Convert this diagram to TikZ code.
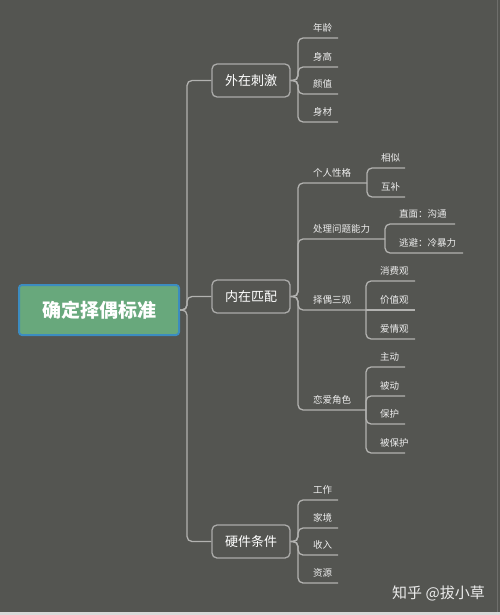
\documentclass[tikz,border=0pt]{standalone}
\usepackage{fontspec}
\setmainfont{Noto Sans CJK SC}
\newfontfamily\cjk{Noto Sans CJK SC}
\definecolor{bgc}{HTML}{545551}
\definecolor{linec}{HTML}{B2B2B0}
\definecolor{boxc}{HTML}{ABABA9}
\definecolor{txtc}{HTML}{EEEEEE}
\definecolor{rootfill}{HTML}{68A87C}
\definecolor{rootdraw}{HTML}{3C8CC0}
\begin{document}
\begin{tikzpicture}[x=1pt,y=-1pt,
  conn/.style={draw=linec, line width=1.3pt, rounded corners=5pt},
  rootbox/.style={draw=rootdraw, fill=rootfill, line width=2pt, rounded corners=3pt,
    minimum width=160pt, minimum height=50pt, text=white, font=\cjk\bfseries\fontsize{19}{19}\selectfont},
  lone/.style={draw=boxc, line width=1.3pt, rounded corners=5pt, minimum width=78pt,
    minimum height=33pt, text=white, font=\cjk\fontsize{13}{13}\selectfont},
  lbl/.style={anchor=west, inner sep=0pt, text=txtc, font=\cjk\fontsize{9.5}{10}\selectfont}]
\fill[bgc] (0,0) rectangle (500,615);
\useasboundingbox (0,0) rectangle (500,615);
\fill[black!15] (0,612) rectangle (500,615);
\draw[bgc!85!white, line width=1pt] (497.5,0) -- (497.5,612);

% root and level 1
\node[rootbox] (root) at (99,310) {确定择偶标准};
\node[lone] (ext) at (251,80.5) {外在刺激};
\node[lone] (nei) at (251,296.5) {内在匹配};
\node[lone] (hard) at (251,541.5) {硬件条件};
\coordinate (tr) at (187,310);
\draw[conn] (root.east) -- (tr) |- (ext.west);
\draw[conn] (root.east) -- (tr) |- (nei.west);
\draw[conn] (root.east) -- (tr) |- (hard.west);
\coordinate (jx) at (298,0);

% 外在刺激
\coordinate (e1) at (338,38);
\coordinate (e2) at (338,67);
\coordinate (e3) at (338,94);
\coordinate (e4) at (338,122);
\node[lbl] (e1t) at (313,28) {年龄};
\node[lbl] (e2t) at (313,57) {身高};
\node[lbl] (e3t) at (313,84) {颜值};
\node[lbl] (e4t) at (313,112) {身材};
\foreach \c in {e1,e2,e3,e4}
  \draw[conn] (ext.east) -- (ext.east -| jx) |- (\c);

% 内在匹配
\coordinate (n1) at (367,183);
\coordinate (n2) at (385,239);
\coordinate (n3) at (366,310);
\coordinate (n4) at (366,410);
\node[lbl] (n1t) at (313,173) {个人性格};
\node[lbl] (n2t) at (313,229) {处理问题能力};
\node[lbl] (n3t) at (313,300) {择偶三观};
\node[lbl] (n4t) at (313,400) {恋爱角色};
\foreach \c in {n1,n2,n3,n4}
  \draw[conn] (nei.east) -- (nei.east -| jx) |- (\c);

\coordinate (n11) at (405,168);
\coordinate (n12) at (405,197);
\node[lbl] (n11t) at (381,158) {相似};
\node[lbl] (n12t) at (381,187) {互补};
\draw[conn] (n1) |- (n11);
\draw[conn] (n1) |- (n12);

\coordinate (n21) at (455,224);
\coordinate (n22) at (463,253);
\node[lbl] (n21t) at (399,214) {直面：沟通};
\node[lbl] (n22t) at (399,243) {逃避：冷暴力};
\draw[conn] (n2) |- (n21);
\draw[conn] (n2) |- (n22);

\coordinate (n31) at (415,281);
\coordinate (n32) at (415,310);
\coordinate (n33) at (415,339);
\node[lbl] (n31t) at (380,271) {消费观};
\node[lbl] (n32t) at (380,300) {价值观};
\node[lbl] (n33t) at (380,329) {爱情观};
\draw[conn] (n3) |- (n31);
\draw[conn] (n3) -- (n32);
\draw[conn] (n3) |- (n33);

\coordinate (n41) at (405,367);
\coordinate (n42) at (405,396);
\coordinate (n43) at (405,424);
\coordinate (n44) at (405,453);
\node[lbl] (n41t) at (380,357) {主动};
\node[lbl] (n42t) at (380,386) {被动};
\node[lbl] (n43t) at (380,414) {保护};
\node[lbl] (n44t) at (380,443) {被保护};
\foreach \c in {n41,n42,n43,n44}
  \draw[conn] (n4) |- (\c);

% 硬件条件
\coordinate (h1) at (338,500);
\coordinate (h2) at (338,528);
\coordinate (h3) at (338,555);
\coordinate (h4) at (338,583);
\node[lbl] (h1t) at (313,490) {工作};
\node[lbl] (h2t) at (313,518) {家境};
\node[lbl] (h3t) at (313,545) {收入};
\node[lbl] (h4t) at (313,573) {资源};
\foreach \c in {h1,h2,h3,h4}
  \draw[conn] (hard.east) -- (hard.east -| jx) |- (\c);

% watermark
\node[anchor=west, inner sep=0pt, text=white!92!black, font=\cjk\fontsize{15}{15}\selectfont] (wm) at (392,593) {知乎 @拔小草};
\end{tikzpicture}
\end{document}
